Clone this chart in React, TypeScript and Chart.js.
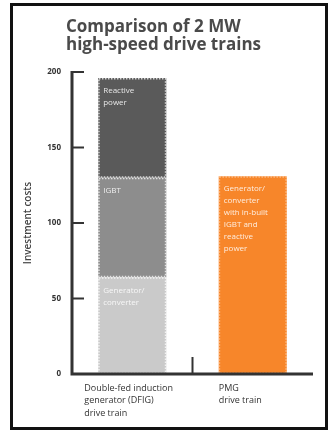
import React, { useEffect, useRef } from "react";
import { Chart, registerables } from "chart.js";

Chart.register(...registerables);

const categories = ["DFIG", "PMG"];
const categoryLabels = [
  ["Double-fed induction", "generator (DFIG)", "drive train"],
  ["PMG", "drive train"],
];
const generatorConverter = [64, null];
const igbt = [66, null];
const reactivePower = [66, null];
const pmgAll = [null, 131];
const yTicks = [0, 50, 100, 150, 200];
const segmentTexts = [
  ["Generator/", "converter"],
  ["IGBT"],
  ["Reactive", "power"],
  ["Generator/", "converter", "with in-built", "IGBT and", "reactive", "power"],
];
const titleLines = ["Comparison of 2 MW", "high-speed drive trains"];
const yTitle = "Investment costs";

const FONT = '"Open Sans", "DejaVu Sans", sans-serif';

const overlay = {
  id: "overlay",
  afterDatasetsDraw(chart: any) {
    const ctx = chart.ctx;
    ctx.save();
    chart.data.datasets.forEach((ds: any, di: number) => {
      const meta = chart.getDatasetMeta(di);
      meta.data.forEach((el: any, i: number) => {
        const v = ds.data[i];
        if (v == null) return;
        const p = el.getProps(["x", "y", "base", "width"], true);
        const left = p.x - p.width / 2;
        const top = Math.min(p.y, p.base);
        const h = Math.abs(p.base - p.y);
        ctx.setLineDash([1.5, 1.5]);
        ctx.lineWidth = 1.5;
        ctx.strokeStyle = di === 3 ? "rgba(255,220,190,0.6)" : "rgba(255,255,255,0.75)";
        ctx.strokeRect(left + 0.75, top + 0.75, p.width - 1.5, h - 1.5);
        ctx.setLineDash([]);
        const lines = segmentTexts[di];
        ctx.fillStyle = "rgba(255,255,255,0.85)";
        ctx.font = `8px ${FONT}`;
        ctx.textAlign = "left";
        ctx.textBaseline = "middle";
        lines.forEach((t: string, li: number) => {
          ctx.fillText(t, left + 5, top + 13 + li * 12);
        });
      });
    });
    ctx.restore();
  },
  afterDraw(chart: any) {
    const ctx = chart.ctx;
    const ya = chart.scales.y;
    const xa = chart.scales.x;
    const area = chart.chartArea;
    ctx.save();
    // frame
    ctx.strokeStyle = "#111";
    ctx.lineWidth = 3;
    ctx.strokeRect(11.5, 4.5, 315, 424);
    // title
    ctx.fillStyle = "#4a4a4a";
    ctx.font = `bold 17px ${FONT}`;
    ctx.textAlign = "left";
    ctx.textBaseline = "alphabetic";
    ctx.fillText(titleLines[0], 66, 32);
    ctx.fillText(titleLines[1], 66, 50);
    // axes
    ctx.strokeStyle = "#333";
    ctx.lineWidth = 3;
    ctx.beginPath();
    ctx.moveTo(area.left, ya.getPixelForValue(200) - 1);
    ctx.lineTo(area.left, ya.getPixelForValue(0));
    ctx.lineTo(area.right, ya.getPixelForValue(0));
    ctx.stroke();
    // y ticks
    ctx.lineWidth = 2;
    ctx.font = `bold 8px ${FONT}`;
    ctx.fillStyle = "#333";
    ctx.textAlign = "right";
    ctx.textBaseline = "middle";
    yTicks.forEach((t) => {
      const y = ya.getPixelForValue(t);
      if (t > 0) {
        ctx.beginPath();
        ctx.moveTo(area.left, y);
        ctx.lineTo(area.left + 12, y);
        ctx.stroke();
      }
      ctx.fillText(String(t), 61, y);
    });
    // category separator tick
    const sep = (xa.getPixelForValue(0) + xa.getPixelForValue(1)) / 2;
    ctx.beginPath();
    ctx.moveTo(sep, ya.getPixelForValue(0));
    ctx.lineTo(sep, ya.getPixelForValue(0) - 17);
    ctx.stroke();
    // y title
    ctx.save();
    ctx.translate(28, (area.top + area.bottom) / 2);
    ctx.rotate(-Math.PI / 2);
    ctx.font = `600 10px ${FONT}`;
    ctx.fillStyle = "#444";
    ctx.textAlign = "center";
    ctx.textBaseline = "middle";
    ctx.fillText(yTitle, 0, 0);
    ctx.restore();
    // category labels
    ctx.font = `9px ${FONT}`;
    ctx.fillStyle = "#333";
    ctx.textAlign = "left";
    ctx.textBaseline = "middle";
    const xOffsets = [-48, -34];
    categoryLabels.forEach((lines, ci) => {
      const cx = xa.getPixelForValue(ci);
      lines.forEach((t, li) => {
        ctx.fillText(t, cx + xOffsets[ci], 388 + li * 12.5);
      });
    });
    ctx.restore();
  },
};

export default function App() {
  const ref = useRef<HTMLCanvasElement>(null);
  useEffect(() => {
    if (!ref.current) return;
    const chart = new Chart(ref.current, {
      type: "bar",
      data: {
        labels: categories,
        datasets: [
          { label: "Generator/converter", data: generatorConverter as any, backgroundColor: "#cacaca" },
          { label: "IGBT", data: igbt as any, backgroundColor: "#8d8d8d" },
          { label: "Reactive power", data: reactivePower as any, backgroundColor: "#5a5a5a" },
          { label: "PMG", data: pmgAll as any, backgroundColor: "#f7862a" },
        ],
      },
      options: {
        responsive: false,
        animation: false,
        datasets: { bar: { categoryPercentage: 1, barPercentage: 0.565, borderWidth: 0 } },
        layout: { padding: { left: 72, right: 17, top: 72, bottom: 58 } },
        plugins: { legend: { display: false }, tooltip: { enabled: false }, title: { display: false } },
        scales: {
          x: { stacked: true, display: false },
          y: { stacked: true, display: false, min: 0, max: 200 },
        },
      },
      plugins: [overlay],
    });
    return () => chart.destroy();
  }, []);
  return (
    <div style={{ position: "absolute", left: 0, top: 0, width: 330, height: 432, background: "#fff" }}>
      <canvas ref={ref} width={330} height={432} style={{ display: "block" }} />
    </div>
  );
}
